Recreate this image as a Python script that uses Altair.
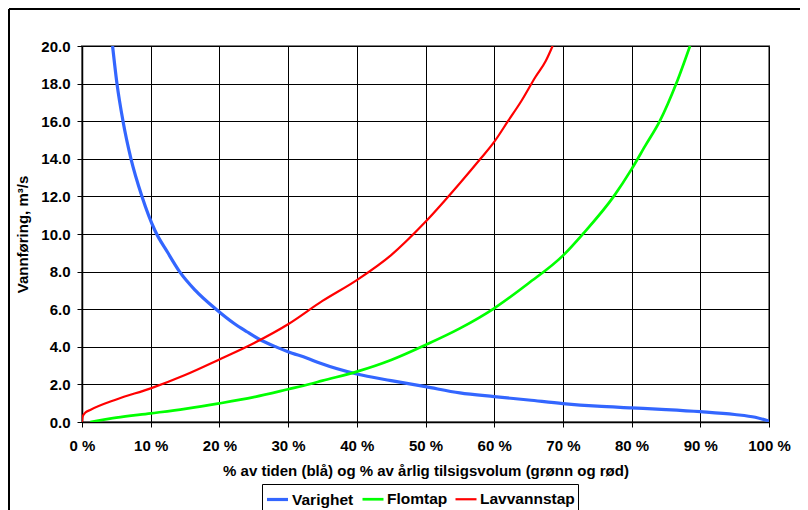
import altair as alt
import pandas as pd

series_names = ["Varighet", "Flomtap", "Lavvannstap"]
series_colors = ["#3366FF", "#00FF00", "#FF0000"]
series_widths = [3.2, 2.2, 2.2]

# Varighet (blue): % of time vs discharge
varighet_x = [4.45, 5.09, 5.97, 7.13, 8.73, 10.6, 12.5, 14.2, 16.5, 19.6, 22.1, 24.0,
              26.0, 28.4, 30.0, 32.8, 34.7, 40.0, 45.0, 50.0, 55.0, 60.0, 65.0, 70.0,
              75.0, 80.0, 85.0, 90.0, 95.0, 98.0, 100.0]
varighet_y = [20.0, 18.0, 16.0, 14.0, 12.0, 10.2, 9.0, 8.0, 7.0, 5.97, 5.25, 4.8,
              4.36, 3.97, 3.74, 3.39, 3.12, 2.55, 2.2, 1.88, 1.55, 1.35, 1.17, 0.98,
              0.84, 0.75, 0.66, 0.55, 0.4, 0.25, 0.05]

# Flomtap (green)
flomtap_x = [1.2, 5.0, 10.0, 15.0, 20.0, 25.0, 30.0, 33.2, 35.0, 40.0, 45.0, 50.0,
             55.0, 60.0, 65.0, 70.0, 72.9, 77.4, 80.0, 82.0, 84.1, 86.5, 88.5]
flomtap_y = [0.0, 0.23, 0.46, 0.7, 0.99, 1.32, 1.74, 2.02, 2.2, 2.68, 3.3, 4.1,
             4.98, 6.05, 7.38, 8.85, 10.0, 12.0, 13.45, 14.7, 16.0, 18.0, 20.0]

# Lavvannstap (red)
lavvann_x = [0.0, 0.1, 0.5, 1.2, 5.0, 10.0, 15.0, 20.0, 25.0, 30.0, 35.0, 40.0,
             45.0, 50.0, 55.0, 58.0, 60.0, 62.0, 64.0, 66.0, 67.5, 68.5]
lavvann_y = [0.0, 0.3, 0.5, 0.64, 1.2, 1.79, 2.5, 3.33, 4.19, 5.2, 6.44, 7.55,
             8.88, 10.65, 12.7, 14.0, 14.9, 16.0, 17.1, 18.35, 19.2, 20.0]

x_ticks = [0, 10, 20, 30, 40, 50, 60, 70, 80, 90, 100]
y_ticks = [0, 2, 4, 6, 8, 10, 12, 14, 16, 18, 20]

rows = []
for name, xs, ys in [("Varighet", varighet_x, varighet_y),
                     ("Flomtap", flomtap_x, flomtap_y),
                     ("Lavvannstap", lavvann_x, lavvann_y)]:
    for i, (xv, yv) in enumerate(zip(xs, ys)):
        rows.append({"series": name, "x": xv, "y": yv, "i": i})
df = pd.DataFrame(rows)

FONT = "Liberation Sans"

lines = alt.Chart(df).mark_line(clip=True, interpolate="monotone").encode(
    x=alt.X("x:Q",
            scale=alt.Scale(domain=[0, 100], nice=False, zero=False),
            axis=alt.Axis(values=x_ticks, labelExpr="datum.value + ' %'",
                          title="% av tiden (blå) og % av årlig tilsigsvolum (grønn og rød)",
                          labelPadding=11, titlePadding=10, labelFlush=False,
                          labelOverlap=False)),
    y=alt.Y("y:Q",
            scale=alt.Scale(domain=[0, 20], nice=False),
            axis=alt.Axis(values=y_ticks, format=".1f", title="Vannføring, m³/s",
                          labelPadding=7, titlePadding=10, labelFlush=False)),
    color=alt.Color("series:N",
                    scale=alt.Scale(domain=series_names, range=series_colors),
                    legend=alt.Legend(title=None, orient="none", legendX=180, legendY=438,
                                      direction="horizontal", symbolType="stroke",
                                      symbolSize=441, labelFontSize=15.5, labelFont=FONT,
                                      labelFontWeight="bold", labelColor="black",
                                      strokeColor="black", padding=3, columnPadding=3,
                                      labelOffset=2, symbolStrokeWidth=3)),
    strokeWidth=alt.StrokeWidth("series:N",
                                scale=alt.Scale(domain=series_names, range=series_widths),
                                legend=None),
    order="i:Q",
)

one = pd.DataFrame({"a": [0]})
border_top = alt.Chart(one).mark_rule(color="black", strokeWidth=2).encode(
    x=alt.value(-73), x2=alt.value(720), y=alt.value(-37))
border_left = alt.Chart(one).mark_rule(color="black", strokeWidth=2).encode(
    x=alt.value(-73), y=alt.value(-37), y2=alt.value(470))

chart = alt.layer(border_top, border_left, lines).properties(
    width=687, height=376,
    autosize=alt.AutoSizeParams(type="none"),
    padding={"left": 74, "top": 38, "right": 31, "bottom": 88},
    background="white",
).configure_view(
    stroke="#808080", strokeWidth=2
).configure_axis(
    labelFont=FONT, labelFontSize=15, labelFontWeight="bold", labelColor="black",
    titleFont=FONT, titleFontSize=15, titleFontWeight="bold", titleColor="black",
    gridColor="black", gridOpacity=1, gridWidth=1,
    domainColor="black", domainWidth=1.5, tickColor="black", tickSize=5, tickWidth=1,
)

chart.save("out.html", embed_options={"renderer": "svg", "actions": False})
